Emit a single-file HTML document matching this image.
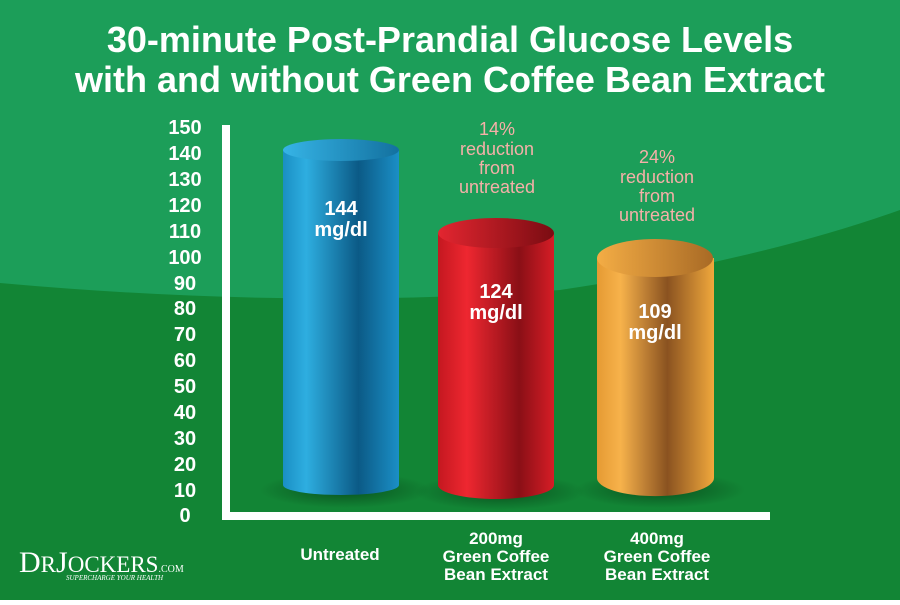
<!DOCTYPE html>
<html><head><meta charset="utf-8"><style>
html,body{margin:0;padding:0}
body{width:900px;height:600px;overflow:hidden;font-family:"Liberation Sans",sans-serif}
</style></head><body>
<svg width="900" height="600" viewBox="0 0 900 600" xmlns="http://www.w3.org/2000/svg" font-family="Liberation Sans, sans-serif">
<defs>
<linearGradient id="bl" x1="0" x2="1"><stop offset="0" stop-color="#1a8fc4"/><stop offset="0.2" stop-color="#2eaee0"/><stop offset="0.65" stop-color="#0b5a86"/><stop offset="1" stop-color="#1b8fc6"/></linearGradient>
<linearGradient id="blt" x1="0" x2="1"><stop offset="0" stop-color="#36b4e6"/><stop offset="1" stop-color="#13719f"/></linearGradient>
<linearGradient id="rd" x1="0" x2="1"><stop offset="0" stop-color="#c41820"/><stop offset="0.25" stop-color="#ee2730"/><stop offset="0.7" stop-color="#8a0f16"/><stop offset="1" stop-color="#d61d26"/></linearGradient>
<linearGradient id="rdt" x1="0" x2="1"><stop offset="0" stop-color="#e32630"/><stop offset="1" stop-color="#7a0c12"/></linearGradient>
<linearGradient id="or" x1="0" x2="1"><stop offset="0" stop-color="#e59a33"/><stop offset="0.2" stop-color="#f7b24b"/><stop offset="0.6" stop-color="#8a5220"/><stop offset="1" stop-color="#f0a83c"/></linearGradient>
<linearGradient id="ort" x1="0" x2="1"><stop offset="0" stop-color="#f4ad45"/><stop offset="1" stop-color="#a86a25"/></linearGradient>
<radialGradient id="sh"><stop offset="0" stop-color="#063a14" stop-opacity="0.7"/><stop offset="1" stop-color="#063a14" stop-opacity="0"/></radialGradient>
</defs>
<rect width="900" height="600" fill="#1c9e59"/>
<path d="M0,283 Q300,310 560,290 Q760,260 900,210 L900,600 L0,600Z" fill="#128535"/>
<text x="450" y="52" fill="#fff" font-size="36" font-weight="bold" text-anchor="middle">30-minute Post-Prandial Glucose Levels</text>
<text x="450" y="92" fill="#fff" font-size="36" font-weight="bold" text-anchor="middle">with and without Green Coffee Bean Extract</text>
<g fill="#fff" font-size="20" font-weight="bold" text-anchor="middle">
<text x="185" y="134">150</text><text x="185" y="160">140</text><text x="185" y="186">130</text><text x="185" y="212">120</text><text x="185" y="238">110</text><text x="185" y="264">100</text><text x="185" y="290">90</text><text x="185" y="315">80</text><text x="185" y="341">70</text><text x="185" y="367">60</text><text x="185" y="393">50</text><text x="185" y="419">40</text><text x="185" y="445">30</text><text x="185" y="471">20</text><text x="185" y="497">10</text><text x="185" y="522">0</text>
</g>
<ellipse cx="345" cy="490" rx="85" ry="18" fill="url(#sh)"/>
<ellipse cx="500" cy="492" rx="85" ry="18" fill="url(#sh)"/>
<ellipse cx="660" cy="490" rx="85" ry="18" fill="url(#sh)"/>
<path d="M283,150 L283,485 A58,10 0 0 0 399,485 L399,150Z" fill="url(#bl)"/>
<ellipse cx="341" cy="150" rx="58" ry="11" fill="url(#blt)"/>
<path d="M438,233 L438,485 A58,14 0 0 0 554,485 L554,233Z" fill="url(#rd)"/>
<ellipse cx="496" cy="233" rx="58" ry="15" fill="url(#rdt)"/>
<path d="M597,258 L597,478 A58,18 0 0 0 714,478 L714,258Z" fill="url(#or)"/>
<ellipse cx="655" cy="258" rx="58" ry="19" fill="url(#ort)"/>
<rect x="222" y="125" width="8" height="395" fill="#fff"/>
<rect x="222" y="512" width="548" height="8" fill="#fff"/>
<g fill="#fff" font-size="20" font-weight="bold" text-anchor="middle">
<text x="341" y="215">144</text><text x="341" y="236">mg/dl</text>
<text x="496" y="298">124</text><text x="496" y="319">mg/dl</text>
<text x="655" y="318">109</text><text x="655" y="339">mg/dl</text>
</g>
<g fill="#f5b0a8" font-size="18" text-anchor="middle">
<text x="497" y="135">14%</text><text x="497" y="155">reduction</text><text x="497" y="174">from</text><text x="497" y="193">untreated</text>
<text x="657" y="163">24%</text><text x="657" y="183">reduction</text><text x="657" y="202">from</text><text x="657" y="221">untreated</text>
</g>
<g fill="#fff" font-size="17" font-weight="bold" text-anchor="middle">
<text x="340" y="560">Untreated</text>
<text x="496" y="544">200mg</text><text x="496" y="562">Green Coffee</text><text x="496" y="580">Bean Extract</text>
<text x="657" y="544">400mg</text><text x="657" y="562">Green Coffee</text><text x="657" y="580">Bean Extract</text>
</g>
<text x="19" y="572" fill="#fff" font-family="Liberation Serif, serif" font-size="30">D<tspan font-size="23">R</tspan>J<tspan font-size="23">OCKERS</tspan><tspan font-size="10">.COM</tspan></text>
<text x="66" y="580" fill="#fff" font-family="Liberation Serif, serif" font-size="7" font-style="italic">SUPERCHARGE YOUR HEALTH</text>
</svg>
</body></html>
